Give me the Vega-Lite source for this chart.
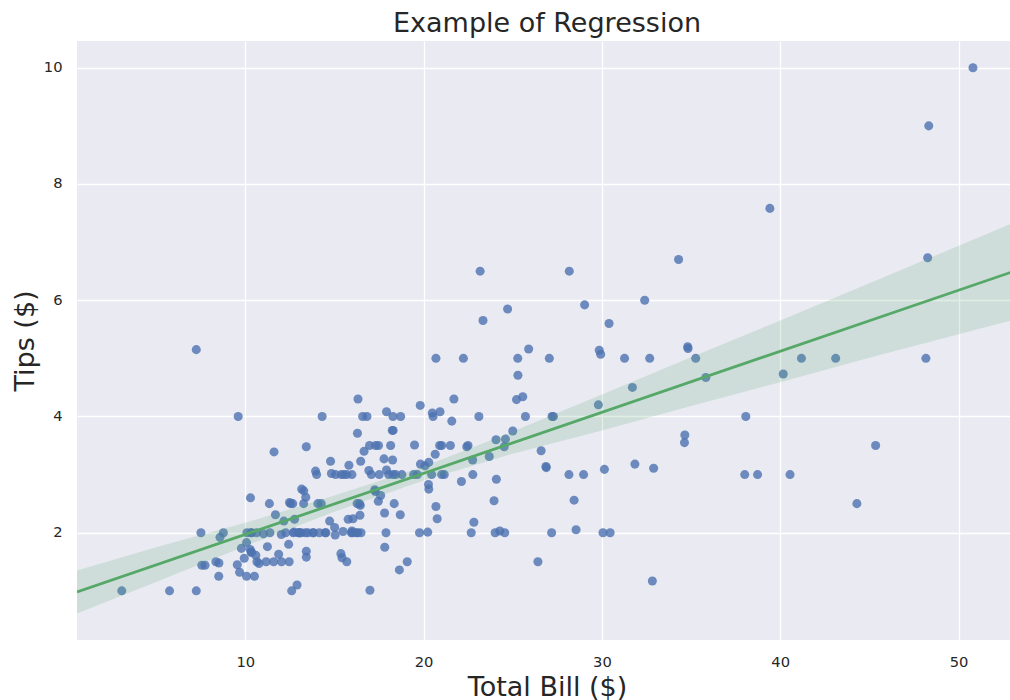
{
  "$schema": "https://vega.github.io/schema/vega-lite/v6.json",
  "autosize": {"type": "none"},
  "padding": {"left": 77, "top": 41, "right": 0, "bottom": 60},
  "width": 940,
  "height": 599,
  "background": "white",
  "title": {"text": "Example of Regression", "fontSize": 27, "font": "DejaVu Sans", "fontWeight": "normal", "color": "#262626", "anchor": "middle", "baseline": "alphabetic", "offset": 8, "dy": 26},
  "config": {
    "view": {"fill": "#EAEAF2", "stroke": null},
    "axis": {"domain": false, "ticks": false, "grid": true, "gridColor": "#FFFFFF", "gridWidth": 1.3, "labelColor": "#262626", "labelFont": "DejaVu Sans", "labelFontSize": 14.7, "titleFont": "DejaVu Sans", "titleFontSize": 27, "titleFontWeight": "normal", "titleColor": "#262626", "format": "d"}
  },
  "datasets": {
    "tips": [
      {"total_bill":16.99,"tip":1.01},{"total_bill":10.34,"tip":1.66},{"total_bill":21.01,"tip":3.5},{"total_bill":23.68,"tip":3.31},{"total_bill":24.59,"tip":3.61},{"total_bill":25.29,"tip":4.71},{"total_bill":8.77,"tip":2.0},{"total_bill":26.88,"tip":3.12},{"total_bill":15.04,"tip":1.96},{"total_bill":14.78,"tip":3.23},
      {"total_bill":10.27,"tip":1.71},{"total_bill":35.26,"tip":5.0},{"total_bill":15.42,"tip":1.57},{"total_bill":18.43,"tip":3.0},{"total_bill":14.83,"tip":3.02},{"total_bill":21.58,"tip":3.92},{"total_bill":10.33,"tip":1.67},{"total_bill":16.29,"tip":3.71},{"total_bill":16.97,"tip":3.5},{"total_bill":20.65,"tip":3.35},
      {"total_bill":17.92,"tip":4.08},{"total_bill":20.29,"tip":2.75},{"total_bill":15.77,"tip":2.23},{"total_bill":39.42,"tip":7.58},{"total_bill":19.82,"tip":3.18},{"total_bill":17.81,"tip":2.34},{"total_bill":13.37,"tip":2.0},{"total_bill":12.69,"tip":2.0},{"total_bill":21.7,"tip":4.3},{"total_bill":19.65,"tip":3.0},
      {"total_bill":9.55,"tip":1.45},{"total_bill":18.35,"tip":2.5},{"total_bill":15.06,"tip":3.0},{"total_bill":20.69,"tip":2.45},{"total_bill":17.78,"tip":3.27},{"total_bill":24.06,"tip":3.6},{"total_bill":16.31,"tip":2.0},{"total_bill":16.93,"tip":3.07},{"total_bill":18.69,"tip":2.31},{"total_bill":31.27,"tip":5.0},
      {"total_bill":16.04,"tip":2.24},{"total_bill":17.46,"tip":2.54},{"total_bill":13.94,"tip":3.06},{"total_bill":9.68,"tip":1.32},{"total_bill":30.4,"tip":5.6},{"total_bill":18.29,"tip":3.0},{"total_bill":22.23,"tip":5.0},{"total_bill":32.4,"tip":6.0},{"total_bill":28.55,"tip":2.05},{"total_bill":18.04,"tip":3.0},
      {"total_bill":12.54,"tip":2.5},{"total_bill":10.29,"tip":2.6},{"total_bill":34.81,"tip":5.2},{"total_bill":9.94,"tip":1.56},{"total_bill":25.56,"tip":4.34},{"total_bill":19.49,"tip":3.51},{"total_bill":38.01,"tip":3.0},{"total_bill":26.41,"tip":1.5},{"total_bill":11.24,"tip":1.76},{"total_bill":48.27,"tip":6.73},
      {"total_bill":20.29,"tip":3.21},{"total_bill":13.81,"tip":2.0},{"total_bill":11.02,"tip":1.98},{"total_bill":18.29,"tip":3.76},{"total_bill":17.59,"tip":2.64},{"total_bill":20.08,"tip":3.15},{"total_bill":16.45,"tip":2.47},{"total_bill":3.07,"tip":1.0},{"total_bill":20.23,"tip":2.01},{"total_bill":15.01,"tip":2.09},
      {"total_bill":12.02,"tip":1.97},{"total_bill":17.07,"tip":3.0},{"total_bill":26.86,"tip":3.14},{"total_bill":25.28,"tip":5.0},{"total_bill":14.73,"tip":2.2},{"total_bill":10.51,"tip":1.25},{"total_bill":17.92,"tip":3.08},{"total_bill":27.2,"tip":4.0},{"total_bill":22.76,"tip":3.0},{"total_bill":17.29,"tip":2.71},
      {"total_bill":19.44,"tip":3.0},{"total_bill":16.66,"tip":3.4},{"total_bill":10.07,"tip":1.83},{"total_bill":32.68,"tip":5.0},{"total_bill":15.98,"tip":2.03},{"total_bill":34.83,"tip":5.17},{"total_bill":13.03,"tip":2.0},{"total_bill":18.28,"tip":4.0},{"total_bill":24.71,"tip":5.85},{"total_bill":21.16,"tip":3.0},
      {"total_bill":28.97,"tip":3.0},{"total_bill":22.49,"tip":3.5},{"total_bill":5.75,"tip":1.0},{"total_bill":16.32,"tip":4.3},{"total_bill":22.75,"tip":3.25},{"total_bill":40.17,"tip":4.73},{"total_bill":27.28,"tip":4.0},{"total_bill":12.03,"tip":1.5},{"total_bill":21.01,"tip":3.0},{"total_bill":12.46,"tip":1.5},
      {"total_bill":11.35,"tip":2.5},{"total_bill":15.38,"tip":3.0},{"total_bill":44.3,"tip":2.5},{"total_bill":22.42,"tip":3.48},{"total_bill":20.92,"tip":4.08},{"total_bill":15.36,"tip":1.64},{"total_bill":20.49,"tip":4.06},{"total_bill":25.21,"tip":4.29},{"total_bill":18.24,"tip":3.76},{"total_bill":14.31,"tip":4.0},
      {"total_bill":14.0,"tip":3.0},{"total_bill":7.25,"tip":1.0},{"total_bill":38.07,"tip":4.0},{"total_bill":23.95,"tip":2.55},{"total_bill":25.71,"tip":4.0},{"total_bill":17.31,"tip":3.5},{"total_bill":29.93,"tip":5.07},{"total_bill":10.65,"tip":1.5},{"total_bill":12.43,"tip":1.8},{"total_bill":24.08,"tip":2.92},
      {"total_bill":11.69,"tip":2.31},{"total_bill":13.42,"tip":1.68},{"total_bill":14.26,"tip":2.5},{"total_bill":15.95,"tip":2.0},{"total_bill":12.48,"tip":2.52},{"total_bill":29.8,"tip":4.2},{"total_bill":8.52,"tip":1.48},{"total_bill":14.52,"tip":2.0},{"total_bill":11.38,"tip":2.0},{"total_bill":22.82,"tip":2.18},
      {"total_bill":19.08,"tip":1.5},{"total_bill":20.27,"tip":2.83},{"total_bill":11.17,"tip":1.5},{"total_bill":12.26,"tip":2.0},{"total_bill":18.26,"tip":3.25},{"total_bill":8.51,"tip":1.25},{"total_bill":10.33,"tip":2.0},{"total_bill":14.15,"tip":2.0},{"total_bill":16.0,"tip":2.0},{"total_bill":13.16,"tip":2.75},
      {"total_bill":17.47,"tip":3.5},{"total_bill":34.3,"tip":6.7},{"total_bill":41.19,"tip":5.0},{"total_bill":27.05,"tip":5.0},{"total_bill":16.43,"tip":2.3},{"total_bill":8.35,"tip":1.5},{"total_bill":18.64,"tip":1.36},{"total_bill":11.87,"tip":1.63},{"total_bill":9.78,"tip":1.73},{"total_bill":7.51,"tip":2.0},
      {"total_bill":14.07,"tip":2.5},{"total_bill":13.13,"tip":2.0},{"total_bill":17.26,"tip":2.74},{"total_bill":24.55,"tip":2.0},{"total_bill":19.77,"tip":2.0},{"total_bill":29.85,"tip":5.14},{"total_bill":48.17,"tip":5.0},{"total_bill":25.0,"tip":3.75},{"total_bill":13.39,"tip":2.61},{"total_bill":16.49,"tip":2.0},
      {"total_bill":21.5,"tip":3.5},{"total_bill":12.66,"tip":2.5},{"total_bill":16.21,"tip":2.0},{"total_bill":13.81,"tip":2.0},{"total_bill":17.51,"tip":3.0},{"total_bill":24.52,"tip":3.48},{"total_bill":20.76,"tip":2.24},{"total_bill":31.71,"tip":4.5},{"total_bill":10.59,"tip":1.61},{"total_bill":10.63,"tip":2.0},
      {"total_bill":50.81,"tip":10.0},{"total_bill":15.81,"tip":3.16},{"total_bill":7.25,"tip":5.15},{"total_bill":31.85,"tip":3.18},{"total_bill":16.82,"tip":4.0},{"total_bill":32.9,"tip":3.11},{"total_bill":17.89,"tip":2.0},{"total_bill":14.48,"tip":2.0},{"total_bill":9.6,"tip":4.0},{"total_bill":34.63,"tip":3.55},
      {"total_bill":34.65,"tip":3.68},{"total_bill":23.33,"tip":5.65},{"total_bill":45.35,"tip":3.5},{"total_bill":23.17,"tip":6.5},{"total_bill":40.55,"tip":3.0},{"total_bill":20.69,"tip":5.0},{"total_bill":20.9,"tip":3.5},{"total_bill":30.46,"tip":2.0},{"total_bill":18.15,"tip":3.5},{"total_bill":23.1,"tip":4.0},
      {"total_bill":15.69,"tip":1.5},{"total_bill":19.81,"tip":4.19},{"total_bill":28.44,"tip":2.56},{"total_bill":15.48,"tip":2.02},{"total_bill":16.58,"tip":4.0},{"total_bill":7.56,"tip":1.44},{"total_bill":10.34,"tip":2.0},{"total_bill":43.11,"tip":5.0},{"total_bill":13.0,"tip":2.0},{"total_bill":13.51,"tip":2.0},
      {"total_bill":18.71,"tip":4.0},{"total_bill":12.74,"tip":2.01},{"total_bill":13.0,"tip":2.0},{"total_bill":16.4,"tip":2.5},{"total_bill":20.53,"tip":4.0},{"total_bill":16.47,"tip":3.23},{"total_bill":26.59,"tip":3.41},{"total_bill":38.73,"tip":3.0},{"total_bill":24.27,"tip":2.03},{"total_bill":12.76,"tip":2.23},
      {"total_bill":30.06,"tip":2.0},{"total_bill":25.89,"tip":5.16},{"total_bill":48.33,"tip":9.0},{"total_bill":13.27,"tip":2.5},{"total_bill":28.17,"tip":6.5},{"total_bill":12.9,"tip":1.1},{"total_bill":28.15,"tip":3.0},{"total_bill":11.59,"tip":1.5},{"total_bill":7.74,"tip":1.44},{"total_bill":30.14,"tip":3.09},
      {"total_bill":12.16,"tip":2.2},{"total_bill":13.42,"tip":3.48},{"total_bill":8.58,"tip":1.92},{"total_bill":15.98,"tip":3.0},{"total_bill":13.42,"tip":1.58},{"total_bill":16.27,"tip":2.5},{"total_bill":10.09,"tip":2.0},{"total_bill":20.45,"tip":3.0},{"total_bill":13.28,"tip":2.72},{"total_bill":22.12,"tip":2.88},
      {"total_bill":24.01,"tip":2.0},{"total_bill":15.69,"tip":3.0},{"total_bill":11.61,"tip":3.39},{"total_bill":10.77,"tip":1.47},{"total_bill":15.53,"tip":3.0},{"total_bill":10.07,"tip":1.25},{"total_bill":12.6,"tip":1.0},{"total_bill":32.83,"tip":1.17},{"total_bill":35.83,"tip":4.67},{"total_bill":29.03,"tip":5.92},
      {"total_bill":27.18,"tip":2.0},{"total_bill":22.67,"tip":2.0},{"total_bill":17.82,"tip":1.75},{"total_bill":18.78,"tip":3.0}
    ],
    "band": [
      {"total_bill":0.56,"lower":0.61,"upper":1.35},
      {"total_bill":5,"lower":1.15,"upper":1.75},
      {"total_bill":10,"lower":1.77,"upper":2.17},
      {"total_bill":15,"lower":2.36,"upper":2.64},
      {"total_bill":20,"lower":2.9,"upper":3.14},
      {"total_bill":25,"lower":3.36,"upper":3.74},
      {"total_bill":30,"lower":3.76,"upper":4.38},
      {"total_bill":35,"lower":4.18,"upper":5.02},
      {"total_bill":40,"lower":4.59,"upper":5.65},
      {"total_bill":45,"lower":5.01,"upper":6.29},
      {"total_bill":53.28,"lower":5.68,"upper":7.36}
    ]
  },
  "layer": [
    {
      "data": {"name": "tips"},
      "mark": {"type": "point", "filled": true, "shape": "circle", "size": 82, "color": "#4C72B0", "opacity": 0.8, "strokeWidth": 0},
      "encoding": {
        "x": {"field": "total_bill", "type": "quantitative", "scale": {"domain": [0.56, 53.28], "nice": false, "zero": false}, "axis": {"values": [10, 20, 30, 40, 50], "title": "Total Bill ($)", "labelPadding": 14, "titleBaseline": "alphabetic", "titleY": 55}},
        "y": {"field": "tip", "type": "quantitative", "scale": {"domain": [0.154, 10.46], "nice": false, "zero": false}, "axis": {"values": [2, 4, 6, 8, 10], "title": "Tips ($)", "labelPadding": 15, "titleBaseline": "alphabetic", "titleX": -43.5}}
      }
    },
    {
      "data": {"name": "band"},
      "mark": {"type": "area", "color": "#55A868", "opacity": 0.18, "clip": true},
      "encoding": {
        "x": {"field": "total_bill", "type": "quantitative"},
        "y": {"field": "lower", "type": "quantitative"},
        "y2": {"field": "upper"}
      }
    },
    {
      "data": {"name": "tips"},
      "transform": [{"regression": "tip", "on": "total_bill", "method": "linear", "extent": [0.56, 53.28]}],
      "mark": {"type": "line", "color": "#55A868", "strokeWidth": 2.8, "clip": true},
      "encoding": {
        "x": {"field": "total_bill", "type": "quantitative"},
        "y": {"field": "tip", "type": "quantitative"}
      }
    }
  ]
}
